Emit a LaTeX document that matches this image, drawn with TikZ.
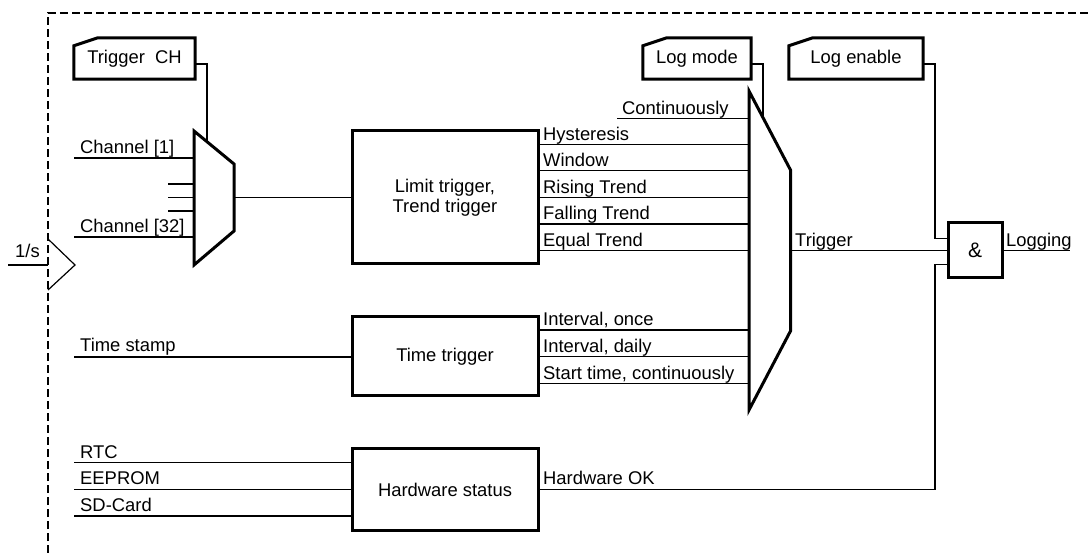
\documentclass[tikz,border=0pt]{standalone}
\usepackage{fontspec}
\setmainfont{Liberation Sans}
\usetikzlibrary{calc}
\begin{document}
\begin{tikzpicture}[x=1pt,y=-1pt,
  font=\fontsize{18.4}{20.5}\selectfont,
  wire/.style={line width=1.3pt},
  heavy/.style={line width=3pt, line join=miter},
  blk/.style={draw, line width=3pt, inner sep=0pt, align=center},
  tag/.style={inner sep=0pt, minimum height=41pt},
  lbl/.style={anchor=base west, inner sep=0pt},
  frame/.style={line width=2.6pt, dash pattern=on 8pt off 4pt},
]
\useasboundingbox (0,0) rectangle (1088,553);

% dashed frame
\draw[frame] (48,553) -- (48,13) -- (1100,13);

% clock input
\coordinate (clkin) at (8,265);
\coordinate (clk) at (48,265);
\draw[wire] (clkin) -- (clk);
\node[lbl] (clklbl) at (15,257.5) {1/s};
\draw[line width=1.2pt] (48,239) -- (75,265) -- (48,290);

% tag boxes (chamfered)
\node[tag, minimum width=121pt] (tch) at (134.5,58.5) {Trigger\ \ CH};
\node[tag, minimum width=108pt] (lm) at (697,58.5) {Log mode};
\node[tag, minimum width=134pt] (le) at (856,58.5) {Log enable};
\foreach \n in {tch,lm,le}{
  \draw[heavy] (\n.south west) -- ($(\n.north west)+(0,8)$) -- ($(\n.north west)+(24,0)$)
     -- (\n.north east) -- (\n.south east) -- cycle;
}

% multiplexer 1
\coordinate (m1tl) at (194,131);
\coordinate (m1tr) at (234,164);
\coordinate (m1br) at (234,231);
\coordinate (m1bl) at (194,265);
\draw[heavy] (m1tl) -- (m1tr) -- (m1br) -- (m1bl) -- cycle;
\coordinate (c1) at ($(m1tl)!0.325!(m1tr)$);
\coordinate (tchout) at (195,64);
\draw[wire] (tchout) -| (c1);

% multiplexer 2
\coordinate (m2tl) at (749,91);
\coordinate (m2tr) at (790.5,170);
\coordinate (m2br) at (790.5,331);
\coordinate (m2bl) at (749,410);
\draw[heavy] (m2tl) -- (m2tr) -- (m2br) -- (m2bl) -- cycle;
\coordinate (c2) at ($(m2tl)!0.337!(m2tr)$);
\coordinate (lmout) at (751,64);
\draw[wire] (lmout) -| (c2);

% blocks
\node[blk, minimum width=186pt, minimum height=133pt] (lim) at (445,197.5) {Limit trigger,\\Trend trigger};
\node[blk, minimum width=186pt, minimum height=79pt] (tt) at (445,356.5) {Time trigger};
\node[blk, minimum width=186pt, minimum height=81pt] (hw) at (445,489.5) {Hardware status};
\node[blk, minimum width=54pt, minimum height=55pt, font=\fontsize{21}{24}\selectfont] (gate) at (975,250.5) {\&};

% channel inputs
\coordinate (ch1) at (74,158);
\coordinate (ch32) at (74,237);
\draw[wire] (ch1) -- (m1tl |- ch1);
\draw[wire] (ch32) -- (m1tl |- ch32);
\node[lbl] (ch1lbl) at (80,154) {Channel [1]};
\node[lbl] (ch32lbl) at (80,232.5) {Channel [32]};
\foreach \y in {184,197.5,211}{
  \coordinate (s) at (168,\y);
  \draw[wire] (s) -- (m1tl |- s);
}
\coordinate (m1out) at (234,197.5);
\draw[wire] (m1out) -- (lim.west);

% limit outputs
\foreach \y/\t [count=\i] in {144.3/Hysteresis,170.7/Window,197.5/Rising Trend,224/Falling Trend,250.7/Equal Trend}{
  \coordinate (lo\i) at (749,\y);
  \draw[wire] (lim.east |- lo\i) -- (lo\i);
  \node[lbl] at (543,\y-4) {\t};
}
\coordinate (cont) at (617,118.3);
\draw[wire] (cont) -- (m2tl |- cont);
\node[lbl] (contlbl) at (622,114.3) {Continuously};

% time trigger
\coordinate (ts) at (74,357);
\draw[wire] (ts) -- (tt.west |- ts);
\node[lbl] (tslbl) at (80,352) {Time stamp};
\foreach \y/\t [count=\i] in {330/{Interval, once},356.7/{Interval, daily},383.3/{Start time, continuously}}{
  \coordinate (to\i) at (749,\y);
  \draw[wire] (tt.east |- to\i) -- (to\i);
  \node[lbl] at (543,\y-4) {\t};
}

% hardware inputs
\foreach \y/\t [count=\i] in {462.7/RTC,489.3/EEPROM,516/SD-Card}{
  \coordinate (hi\i) at (74,\y);
  \draw[wire] (hi\i) -- (hw.west |- hi\i);
  \node[lbl] at (80,\y-4.5) {\t};
}

% gate connections
\coordinate (g1) at (948,238.3);
\coordinate (g3) at (948,264.3);
\coordinate (leout) at (923,64);
\draw[wire] (leout) -| ($(g1)+(-13,0)$) -- (g1);
\draw[wire] (hw.east) -| ($(g3)+(-13,0)$) -- (g3);
\node[lbl] (hwok) at (543,485) {Hardware OK};
\coordinate (m2out) at (790.5,250.5);
\draw[wire] (m2out) -- (gate.west);
\node[lbl] (trig) at (795,246.5) {Trigger};
\coordinate (logend) at (1070,250.5);
\draw[wire] (gate.east) -- (logend);
\node[lbl] (logl) at (1006,246.5) {Logging};
\end{tikzpicture}
\end{document}
